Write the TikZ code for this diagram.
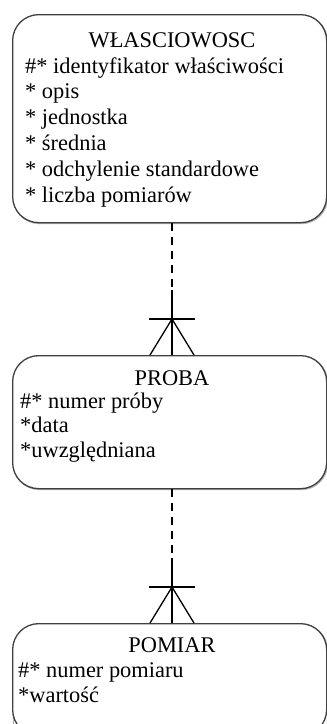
\documentclass[tikz,border=0pt]{standalone}
\usepackage{fontspec}
\setmainfont{Liberation Serif}
\usetikzlibrary{calc}
\newcommand{\attrlist}[2]{{\fontsize{22.4}{#1}\selectfont\begin{tabular}[t]{@{}l@{}}#2\end{tabular}}}
\begin{document}
\begin{tikzpicture}[x=1pt,y=-1pt,
  ent/.style={draw=black!75, line width=1.3pt, rounded corners=26pt, anchor=north west, inner sep=0pt, fill=white},
  entshadow/.style={draw=black!30, line width=1.3pt, rounded corners=26pt},
  ttl/.style={anchor=base, inner sep=0pt, font=\fontsize{22.4}{25.8}\selectfont},
  attrs/.style={anchor=base west, inner sep=0pt},
  rel/.style={line width=1.3pt, black},
  reldash/.style={line width=1.3pt, black, dash pattern=on 8pt off 6pt}]
\useasboundingbox (0,0) rectangle (327,724);
% shadows
\draw[entshadow] (13.5,15.5) rectangle (327.5,223.5);
\draw[entshadow] (13.5,356.5) rectangle (327.5,489.5);
\draw[entshadow] (13.5,624.5) rectangle (327.5,760);
% entities
\node[ent, minimum width=314pt, minimum height=208pt] (w) at (12,14) {};
\node[ent, minimum width=314pt, minimum height=133pt] (p) at (12,355) {};
\node[ent, minimum width=314pt, minimum height=112pt] (m) at (12,623) {};
% texts
\node[ttl] (wt) at (172,47) {WŁASCIOWOSC};
\node[attrs] (wa) at (25,73) {\attrlist{25.8}{\#* identyfikator właściwości\\{}* opis\\{}* jednostka\\{}* średnia\\{}* odchylenie standardowe\\{}* liczba pomiarów}};
\node[ttl] (pt) at (172,385) {PROBA};
\node[attrs] (pa) at (20,408) {\attrlist{24.5}{\#* numer próby\\{}*data\\{}*uwzględniana}};
\node[ttl] (mt) at (172,652) {POMIAR};
\node[attrs] (ma) at (18,677) {\attrlist{25}{\#* numer pomiaru\\{}*wartość}};
% relationship 1
\coordinate (c1) at (172,290);
\coordinate (k1) at (172,319);
\draw[reldash] (w.south -| c1) -- (c1);
\draw[rel] (c1) -- (p.north -| c1);
\draw[rel] ($(k1)+(-23,0)$) -- ($(k1)+(23,0)$);
\draw[rel] ($(p.north -| c1)+(-22,0)$) -- (k1) -- ($(p.north -| c1)+(22,0)$);
% relationship 2
\coordinate (c2) at (172,558);
\coordinate (k2) at (172,587);
\draw[reldash] (p.south -| c2) -- (c2);
\draw[rel] (c2) -- (m.north -| c2);
\draw[rel] ($(k2)+(-23,0)$) -- ($(k2)+(23,0)$);
\draw[rel] ($(m.north -| c2)+(-22,0)$) -- (k2) -- ($(m.north -| c2)+(22,0)$);
\end{tikzpicture}
\end{document}
